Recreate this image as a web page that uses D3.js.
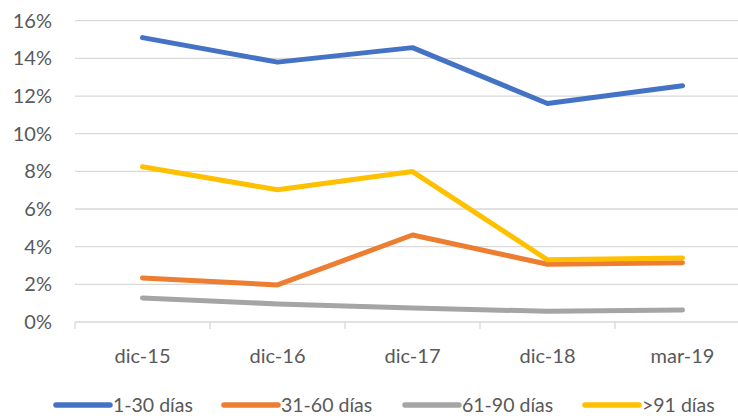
<!DOCTYPE html>
<html lang="es">
<head>
    <meta charset="UTF-8">
    <title>Morosidad</title>
    <script src="https://cdn.jsdelivr.net/npm/d3@7/dist/d3.min.js"></script>
    <style>
        * { padding: 0; margin: 0; }
        body { background: #fff; }
        text { font-family: Lato, "Open Sans", sans-serif; fill: #595959; }
    </style>
</head>
<body>
<div id="grafico"></div>
<script>
    var categorias = ["dic-15", "dic-16", "dic-17", "dic-18", "mar-19"];
    var serie1a30 = [15.1, 13.8, 14.57, 11.6, 12.55];
    var serie31a60 = [2.34, 1.97, 4.62, 3.07, 3.15];
    var serie61a90 = [1.28, 0.96, 0.74, 0.57, 0.64];
    var serieMas91 = [8.24, 7.02, 7.99, 3.3, 3.4];
    var nombres = ["1-30 días", "31-60 días", "61-90 días", ">91 días"];
    var colores = ["#4472c4", "#ed7d31", "#a5a5a5", "#ffc000"];
    var ticksY = [0, 2, 4, 6, 8, 10, 12, 14, 16];

    var series = [serie1a30, serie31a60, serie61a90, serieMas91];

    var w = 738, h = 416;
    var izq = 75, der = 750, arriba = 20.7, abajo = 322;

    var svg = d3.select("#grafico").append("svg")
        .attr("width", w).attr("height", h);

    var xScale = d3.scaleBand().domain(categorias).range([izq, der]);
    var yScale = d3.scaleLinear().domain([0, 16]).range([abajo, arriba]);

    // lineas de cuadricula
    svg.selectAll("line.grid")
        .data(ticksY.slice(1))
        .enter().append("line")
        .attr("x1", izq).attr("x2", w)
        .attr("y1", function(d) { return yScale(d); })
        .attr("y2", function(d) { return yScale(d); })
        .attr("stroke", "#d9d9d9").attr("stroke-width", 1.3);

    // eje x
    svg.append("line")
        .attr("x1", izq).attr("x2", w)
        .attr("y1", abajo).attr("y2", abajo)
        .attr("stroke", "#d9d9d9").attr("stroke-width", 1.3);

    svg.selectAll("line.tick")
        .data(categorias)
        .enter().append("line")
        .attr("x1", function(d) { return xScale(d); })
        .attr("x2", function(d) { return xScale(d); })
        .attr("y1", abajo).attr("y2", abajo + 7)
        .attr("stroke", "#d9d9d9").attr("stroke-width", 1.3);

    // etiquetas y
    svg.selectAll("text.y")
        .data(ticksY)
        .enter().append("text")
        .attr("x", 52)
        .attr("y", function(d) { return yScale(d) + 7; })
        .attr("text-anchor", "end")
        .attr("font-size", "20px")
        .text(function(d) { return d + "%"; });

    // etiquetas x
    svg.selectAll("text.x")
        .data(categorias)
        .enter().append("text")
        .attr("x", function(d) { return xScale(d) + xScale.bandwidth() / 2; })
        .attr("y", 363)
        .attr("text-anchor", "middle")
        .attr("font-size", "20px")
        .text(function(d) { return d; });

    // lineas
    var linea = d3.line()
        .x(function(d, i) { return xScale(categorias[i]) + xScale.bandwidth() / 2; })
        .y(function(d) { return yScale(d); });

    svg.selectAll("path.serie")
        .data(series)
        .enter().append("path")
        .attr("d", linea)
        .attr("fill", "none")
        .attr("stroke", function(d, i) { return colores[i]; })
        .attr("stroke-width", 5)
        .attr("stroke-linecap", "round")
        .attr("stroke-linejoin", "round");

    // leyenda
    var posLeyenda = [56, 224, 405, 585];
    var leyenda = svg.selectAll("g.ley")
        .data(nombres)
        .enter().append("g")
        .attr("transform", function(d, i) { return "translate(" + posLeyenda[i] + ",405)"; });

    leyenda.append("line")
        .attr("x1", 0).attr("x2", 54)
        .attr("stroke", function(d, i) { return colores[i]; })
        .attr("stroke-width", 5.5)
        .attr("stroke-linecap", "round");

    leyenda.append("text")
        .attr("x", 57).attr("y", 6.5)
        .attr("font-size", "19.5px")
        .text(function(d) { return d; });
</script>
</body>
</html>
